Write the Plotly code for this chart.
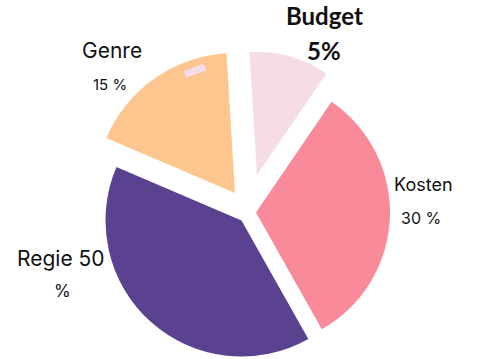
import plotly.graph_objects as go

W, H = 480, 359

# ---- data ----
categories = ["Budget", "Kosten", "Regie", "Genre"]
slice_shares = [10.5, 32.3, 39.6, 17.6]      # angular share of each wedge
shown_percent = [5, 30, 50, 15]               # percentages printed in the labels

# ---- styling / layout (kept apart from the data) ----
colors = ["#F6DCE6", "#F98A99", "#5B4290", "#FEC68F"]
slice_center = {"Budget": (257, 175), "Kosten": (256, 212.5),
                "Regie": (241.5, 220.5), "Genre": (235, 193)}
slice_radius = {"Budget": 123, "Kosten": 134, "Regie": 136, "Genre": 140}


def px(x):
    return x / W


def py(y):
    return 1 - y / H


fig = go.Figure()
for i, cat in enumerate(categories):
    cx, cy = slice_center[cat]
    r = slice_radius[cat]
    cols = ["rgba(0,0,0,0)"] * len(categories)
    cols[i] = colors[i]
    fig.add_trace(go.Pie(
        labels=categories, values=slice_shares, sort=False,
        direction="clockwise", rotation=-3.5,
        marker=dict(colors=cols, line=dict(width=0)),
        textinfo="none", hoverinfo="skip", showlegend=False,
        domain=dict(x=[px(cx - r), px(cx + r)], y=[py(cy + r), py(cy - r)]),
    ))

# label texts built from the data lists
lab = dict(zip(categories, shown_percent))
label_specs = [
    # (text, x px, y px, font family, size, weight)
    ("Budget", 324, 16, "Lato", 24, "bold"),
    (f"{lab['Budget']}%", 324, 50.5, "Lato", 24, "bold"),
    ("Genre", 111.5, 50, "Inter", 21, "normal"),
    (f"{lab['Genre']} %", 109.5, 84, "Inter", 15, "normal"),
    ("Kosten", 423, 184, "Inter", 18, "normal"),
    (f"{lab['Kosten']} %", 421, 218, "Inter", 16, "normal"),
    (f"Regie {lab['Regie']}", 61, 258, "Inter", 21, "normal"),
    ("%", 62.5, 291, "Inter", 17, "normal"),
]
annotations = []
for text, x, y, fam, size, weight in label_specs:
    annotations.append(dict(
        text=text, x=px(x), y=py(y), xref="paper", yref="paper",
        xanchor="center", yanchor="middle", showarrow=False,
        font=dict(family=fam, size=size, color="#111111", weight=weight),
    ))

# small highlight on the Genre wedge
shapes = [dict(type="line", xref="paper", yref="paper",
               x0=px(185), y0=py(74.5), x1=px(205), y1=py(67),
               line=dict(color="#F3DCEC", width=7))]

fig.update_layout(
    width=W, height=H, autosize=False,
    margin=dict(l=0, r=0, t=0, b=0),
    paper_bgcolor="white", plot_bgcolor="white",
    annotations=annotations, shapes=shapes,
)

# remove the browser's default page margin so the figure fills the window
fig.write_html("out.html", config={"displayModeBar": False},
               post_script="document.body.style.margin='0';")
